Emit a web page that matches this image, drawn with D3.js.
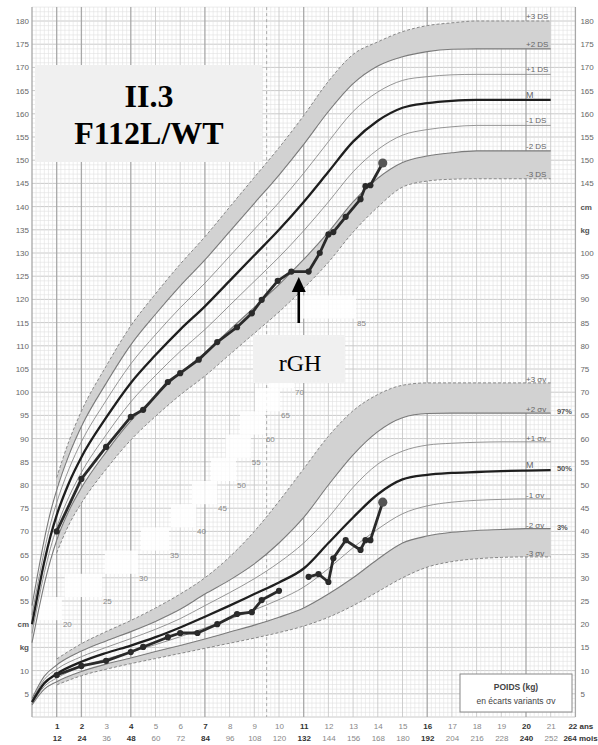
<!DOCTYPE html>
<html>
<head>
<meta charset="utf-8">
<script src="https://cdn.jsdelivr.net/npm/d3@7"></script>
<style>
  body { margin: 0; background: #fff; }
  svg { display: block; font-family: "Liberation Sans", Arial, sans-serif; }
</style>
</head>
<body>
<svg id="chart" width="598" height="745"></svg>
<script>
// ---- reference curves: height (cm), DS lines
const hAges = [0, 0.25, 0.5, 0.75, 1, 1.5, 2, 3, 4, 5, 6, 7, 8, 9, 10, 11, 12, 13, 14, 15, 16, 17, 18, 19, 20, 21];
const hM  = [50, 57, 63.5, 69, 73.5, 80.5, 86, 94.5, 102, 108, 113.5, 118.5, 124, 129.5, 135, 141, 147.5, 154, 158.5, 161.3, 162.3, 162.8, 163, 163, 163, 163];
const hP1 = [52, 59.2, 65.9, 71.6, 76.2, 83.5, 89.3, 98.2, 106.1, 112.4, 118.2, 123.5, 129.3, 135.1, 140.9, 147.2, 154, 160.5, 164.7, 167.2, 168, 168.4, 168.5, 168.5, 168.5, 168.5];
const hP2 = [54, 61.4, 68.3, 74.2, 78.9, 86.5, 92.6, 101.9, 110.2, 116.8, 122.9, 128.5, 134.6, 140.7, 146.8, 153.4, 160.5, 166.5, 170.3, 172.3, 173.4, 173.9, 174, 174, 174, 174];
const hM1 = [48, 54.8, 61.1, 66.4, 70.8, 77.5, 82.7, 90.8, 97.9, 103.6, 108.8, 113.5, 118.7, 123.9, 129.1, 134.8, 141, 147.5, 152.3, 155.4, 156.6, 157.2, 157.5, 157.5, 157.5, 157.5];
const hM2 = [46, 52.6, 58.7, 63.8, 68.1, 74.5, 79.4, 87.1, 93.8, 99.2, 104.1, 108.5, 113.4, 118.3, 123.2, 128.6, 134.5, 141, 146.1, 149.5, 150.9, 151.6, 152, 152, 152, 152];
// +/-3 DS only drawn from 1 year
const hBandAges = [1, 1.5, 2, 3, 4, 5, 6, 7, 8, 9, 10, 11, 12, 13, 14, 15, 16, 17, 18, 19, 20, 21];
const hP3 = [81.6, 89.5, 95.9, 105.6, 114.3, 121.2, 127.6, 133.5, 139.9, 146.3, 152.7, 159.6, 167, 172.8, 175.5, 177.7, 179, 179.6, 180, 180, 180, 180];
const hM3 = [65.4, 71.5, 76.1, 83.4, 89.7, 94.8, 99.4, 103.5, 108.1, 112.7, 117.3, 122.4, 128, 134.5, 139.9, 144.2, 145.5, 145.9, 146, 146, 146, 146];

// ---- reference curves: weight (kg), sigma lines
const wAges = [0, 0.5, 1, 2, 3, 4, 5, 6, 7, 8, 9, 10, 11, 12, 13, 14, 15, 16, 17, 18, 19, 20, 21];
const wM  = [3.2, 7.3, 9.3, 11.9, 13.8, 15.4, 17.2, 19.3, 21.6, 24.0, 26.5, 29.0, 32.0, 37.5, 43.0, 48.0, 51.2, 52.2, 52.6, 52.8, 53.0, 53.1, 53.2];
const wP1 = [3.6, 8.1, 10.3, 13.0, 15.0, 16.9, 18.9, 21.2, 24.0, 26.8, 29.8, 33.3, 37.5, 43.0, 49.5, 54.5, 57.3, 58.6, 59.0, 59.2, 59.3, 59.3, 59.3];
const wP2 = [4.0, 8.8, 11.2, 14.2, 16.4, 18.4, 20.6, 23.2, 26.5, 29.5, 33.0, 37.5, 43.0, 50.0, 56.5, 61.5, 64.5, 65.4, 65.5, 65.5, 65.5, 65.5, 65.5];
const wM1 = [2.9, 6.6, 8.4, 10.8, 12.5, 14.0, 15.6, 17.3, 19.2, 21.1, 23.1, 25.3, 28.0, 32.0, 36.5, 40.5, 43.8, 45.5, 46.3, 46.7, 46.9, 47.0, 47.0];
const wM2 = [2.6, 6.0, 7.6, 9.8, 11.4, 12.7, 14.1, 15.4, 16.8, 18.3, 19.8, 21.5, 23.5, 26.5, 30.0, 34.0, 37.5, 39.0, 39.8, 40.2, 40.4, 40.6, 40.6];
const wBandAges = [1, 2, 3, 4, 5, 6, 7, 8, 9, 10, 11, 12, 13, 14, 15, 16, 17, 18, 19, 20, 21];
const wP3 = [12.5, 15.8, 18.4, 20.8, 23.5, 26.5, 30.0, 34.5, 40.0, 46.5, 53.5, 60.5, 66.0, 69.5, 71.5, 72.0, 72.0, 72.0, 72.0, 72.0, 72.0];
const wM3 = [6.9, 8.9, 10.3, 11.5, 12.6, 13.7, 14.8, 15.9, 17.0, 18.2, 19.6, 21.5, 24.0, 27.0, 30.0, 32.3, 33.5, 34.1, 34.4, 34.5, 34.5];

// ---- patient II.3
const ptHAges = [1, 2, 3, 4, 4.5, 5.5, 6, 6.75, 7.5, 8.3, 8.9, 9.3, 9.95, 10.5, 11.2, 11.65, 12.0, 12.2, 12.7, 13.3, 13.5, 13.7, 14.2];
const ptHeights = [70, 81.3, 88.2, 94.7, 96.2, 102.2, 104.1, 107, 110.8, 114, 117, 119.9, 124, 126, 126, 130, 134, 134.5, 137.8, 141.6, 144.4, 144.6, 149.4];
const ptWAges = [1, 2, 3, 4, 4.5, 5.5, 6, 6.7, 7.5, 8.3, 8.9, 9.3, 10.0, 11.2, 11.6, 12.0, 12.2, 12.7, 13.3, 13.5, 13.7, 14.2];
const ptWeights = [9.05, 11.0, 12.1, 14.0, 15.1, 17.2, 18.1, 18.1, 20.0, 22.2, 22.6, 25.2, 27.2, 30.2, 30.8, 29.1, 34.2, 38.1, 36.0, 38.1, 38.1, 46.3];
const ptWBreak = 13; // weight line interrupted between 10 and 11.2 years

// ---- tick labels
const yearTicks = d3.range(1, 22);
const boldYears = [1, 2, 4, 7, 11, 16, 20];
const hTicksLeft = d3.range(55, 181, 5);
const hTicksRight = d3.range(145, 181, 5);
const wTicksLeft = [5, 10];
const wTicksRight = d3.range(5, 101, 5);
const hLabels = ['+3 DS', '+2 DS', '+1 DS', 'M', '-1 DS', '-2 DS', '-3 DS'];
const wLabels = ['+3 σv', '+2 σv', '+1 σv', 'M', '-1 σv', '-2 σv', '-3 σv'];
const pctLabels = ['97%', '50%', '3%'];
// diagonal weight scale printed in the grid: [kg, age] (75 and 80 sit under the rGH box)
const stairKg = [20, 25, 30, 35, 40, 45, 50, 55, 60, 65, 70, 85];
const stairAge = [1.25, 2.87, 4.33, 5.59, 6.68, 7.53, 8.3, 8.9, 9.47, 10.08, 10.65, 13.16];

const svg = d3.select('#chart');
const x = d3.scaleLinear().domain([0, 22]).range([32, 575.4]);
const yH = d3.scaleLinear().domain([50, 180]).range([624.2, 21]);
const yW = d3.scaleLinear().domain([0, 100]).range([717, 253]);

// ---- grid (height scale from 30 to 183 cm = weight 0 kg to top)
const grid = svg.append('g');
d3.range(30, 184).forEach(h => {
  grid.append('line')
    .attr('x1', x(0)).attr('x2', x(22))
    .attr('y1', yH(h)).attr('y2', yH(h))
    .attr('stroke', h % 5 === 0 ? '#c4c4c4' : '#e0e0e0')
    .attr('stroke-width', h % 5 === 0 ? 0.9 : 0.6);
});
d3.range(0, 22 * 6 + 1).forEach(i => {
  const a = i / 6;
  const isYear = i % 6 === 0;
  const bold = isYear && (boldYears.includes(a) || a === 0 || a === 22);
  grid.append('line')
    .attr('x1', x(a)).attr('x2', x(a))
    .attr('y1', yH(183)).attr('y2', yW(0))
    .attr('stroke', bold ? '#a8a8a8' : isYear ? '#c8c8c8' : '#e0e0e0')
    .attr('stroke-width', bold ? 1.3 : isYear ? 0.9 : 0.6);
});
grid.append('line')
  .attr('x1', x(9.5)).attr('x2', x(9.5))
  .attr('y1', yH(183)).attr('y2', yW(0))
  .attr('stroke', '#aaa').attr('stroke-width', 1)
  .attr('stroke-dasharray', '3,3');

// ---- diagonal white staircase with weight labels
const stairs = svg.append('g');
stairKg.forEach((kg, i) => {
  const px = x(stairAge[i]);
  const py = yW(kg);
  const left = i === 0 ? px - 26 : Math.min(px - 26, x(stairAge[i - 1]) + 2);
  stairs.append('rect')
    .attr('x', left).attr('y', py - 27.2)
    .attr('width', px - 1 - left).attr('height', 23.2)
    .attr('fill', '#fff').attr('opacity', 0.82);
});
stairKg.forEach((kg, i) => {
  stairs.append('text')
    .attr('x', x(stairAge[i])).attr('y', yW(kg) + 3)
    .attr('font-size', 8).attr('fill', '#888')
    .text(kg);
});

// ---- helpers
const lineOf = (ages, vals, y) => d3.line()
  .x((d, i) => x(ages[i])).y(d => y(d))
  .curve(d3.curveMonotoneX)(vals);
const areaOf = (ages, lo, hi, y) => d3.area()
  .x((d, i) => x(ages[i])).y0((d, i) => y(lo[i])).y1(d => y(d))
  .curve(d3.curveMonotoneX)(hi);

const curves = svg.append('g');
function drawSet(ages, bandAges, p3, p2, p1, m, m1, m2, m3, y) {
  const off = ages.indexOf(bandAges[0]);
  curves.append('path').attr('d', areaOf(bandAges, p2.slice(off), p3, y)).attr('fill', '#d2d2d2');
  curves.append('path').attr('d', areaOf(bandAges, m3, m2.slice(off), y)).attr('fill', '#d2d2d2');
  [p3, m3].forEach(s => curves.append('path')
    .attr('d', lineOf(bandAges, s, y))
    .attr('fill', 'none').attr('stroke', '#888').attr('stroke-width', 1)
    .attr('stroke-dasharray', '3,2'));
  [p2, m2].forEach(s => curves.append('path')
    .attr('d', lineOf(ages, s, y))
    .attr('fill', 'none').attr('stroke', '#7a7a7a').attr('stroke-width', 1.1));
  [p1, m1].forEach(s => curves.append('path')
    .attr('d', lineOf(ages, s, y))
    .attr('fill', 'none').attr('stroke', '#8a8a8a').attr('stroke-width', 0.9));
  curves.append('path')
    .attr('d', lineOf(ages, m, y))
    .attr('fill', 'none').attr('stroke', '#1e1e1e').attr('stroke-width', 2.3);
}
drawSet(hAges, hBandAges, hP3, hP2, hP1, hM, hM1, hM2, hM3, yH);
drawSet(wAges, wBandAges, wP3, wP2, wP1, wM, wM1, wM2, wM3, yW);

// ---- curve end labels
const last = a => a[a.length - 1];
const hEnds = [hP3, hP2, hP1, hM, hM1, hM2, hM3].map(last);
const wEnds = [wP3, wP2, wP1, wM, wM1, wM2, wM3].map(last);
const lab = svg.append('g').attr('font-size', 8).attr('fill', '#666');
hEnds.forEach((v, i) => lab.append('text')
  .attr('x', x(20)).attr('y', yH(v) - 2)
  .attr('font-size', hLabels[i] === 'M' ? 9 : 8)
  .text(hLabels[i]));
wEnds.forEach((v, i) => lab.append('text')
  .attr('x', x(20)).attr('y', wLabels[i] === 'M' ? yW(v) - 2 : yW(v) - 1)
  .attr('font-size', wLabels[i] === 'M' ? 9 : 8)
  .text(wLabels[i]));
[wEnds[1], wEnds[3], wEnds[5]].forEach((v, i) => lab.append('text')
  .attr('x', x(21.25)).attr('y', yW(v) + 1)
  .attr('font-weight', 'bold').attr('fill', '#555').attr('font-size', 7.5)
  .text(pctLabels[i]));

// ---- patient
const pt = svg.append('g');
const ptLine = d3.line().x(d => x(d[0])).y(d => d[2](d[1]));
const hPts = ptHAges.map((a, i) => [a, ptHeights[i], yH]);
const wPts = ptWAges.map((a, i) => [a, ptWeights[i], yW]);
[hPts, wPts.slice(0, ptWBreak), wPts.slice(ptWBreak)].forEach(seg => {
  pt.append('path').attr('d', ptLine(seg))
    .attr('fill', 'none').attr('stroke', '#2a2a2a')
    .attr('stroke-width', 2.8).attr('stroke-linejoin', 'round');
});
[hPts, wPts].forEach(pts => {
  pt.selectAll(null).data(pts).join('circle')
    .attr('cx', d => x(d[0])).attr('cy', d => d[2](d[1]))
    .attr('r', (d, i) => i === pts.length - 1 ? 4.6 : 3.1)
    .attr('fill', (d, i) => i === pts.length - 1 ? '#555' : '#2a2a2a');
});

// ---- axes
function clean(g) {
  g.select('.domain').remove();
  g.selectAll('text').attr('fill', '#666').attr('font-size', 8);
}
svg.append('g').attr('transform', `translate(${x(0)},0)`)
  .call(d3.axisLeft(yH).tickValues(hTicksLeft).tickSize(0).tickPadding(3)).call(clean);
svg.append('g').attr('transform', `translate(${x(0)},0)`)
  .call(d3.axisLeft(yW).tickValues(wTicksLeft).tickSize(0).tickPadding(3)).call(clean);
svg.append('g').attr('transform', `translate(${x(22) + 2},0)`)
  .call(d3.axisRight(yH).tickValues(hTicksRight).tickSize(0).tickPadding(3)).call(clean);
svg.append('g').attr('transform', `translate(${x(22) + 2},0)`)
  .call(d3.axisRight(yW).tickValues(wTicksRight).tickSize(0).tickPadding(3)).call(clean);

const unit = svg.append('g').attr('font-size', 8).attr('font-weight', 'bold').attr('fill', '#555');
unit.append('text').attr('x', x(0) - 3).attr('y', yW(20) + 3).attr('text-anchor', 'end').text('cm');
unit.append('text').attr('x', x(0) - 3).attr('y', yW(15) + 3).attr('text-anchor', 'end').text('kg');
unit.append('text').attr('x', x(22) + 5).attr('y', yH(140) + 3).text('cm');
unit.append('text').attr('x', x(22) + 5).attr('y', yH(135) + 3).text('kg');

const years = svg.append('g').attr('transform', `translate(0,${yW(0) + 3})`)
  .call(d3.axisBottom(x).tickValues(yearTicks).tickSize(0).tickPadding(3).tickFormat(d => d))
  .call(clean);
const months = svg.append('g').attr('transform', `translate(0,${yW(0) + 15})`)
  .call(d3.axisBottom(x).tickValues(yearTicks).tickSize(0).tickPadding(3).tickFormat(d => d * 12))
  .call(clean);
[years, months].forEach(g => g.selectAll('text')
  .attr('font-weight', d => boldYears.includes(d) ? 'bold' : 'normal')
  .attr('fill', d => boldYears.includes(d) ? '#333' : '#888'));
unit.append('text').attr('x', x(22) - 7).attr('y', yW(0) + 12).attr('fill', '#333').text('22 ans');
unit.append('text').attr('x', x(22) - 12).attr('y', yW(0) + 24).attr('fill', '#333').text('264 mois');

// ---- legend box
const leg = svg.append('g');
leg.append('rect').attr('x', 460).attr('y', 674).attr('width', 112).attr('height', 38)
  .attr('fill', '#fff').attr('stroke', '#888').attr('stroke-width', 1);
leg.append('text').attr('x', 516).attr('y', 690).attr('text-anchor', 'middle')
  .attr('font-size', 8.5).attr('font-weight', 'bold').attr('fill', '#444').text('POIDS (kg)');
leg.append('text').attr('x', 516).attr('y', 704).attr('text-anchor', 'middle')
  .attr('font-size', 8.5).attr('fill', '#444').text('en écarts variants σv');

// ---- annotations
const ann = svg.append('g').attr('font-family', '"Liberation Serif", "Times New Roman", serif');
ann.append('rect').attr('x', 35).attr('y', 65).attr('width', 227).attr('height', 97).attr('fill', '#f0f0f0');
ann.append('text').attr('x', 149).attr('y', 107).attr('text-anchor', 'middle')
  .attr('font-size', 32).attr('font-weight', 'bold').attr('fill', '#000').text('II.3');
ann.append('text').attr('x', 149).attr('y', 144).attr('text-anchor', 'middle')
  .attr('font-size', 32).attr('font-weight', 'bold').attr('fill', '#000').text('F112L/WT');

ann.append('rect').attr('x', 253).attr('y', 335).attr('width', 92).attr('height', 48).attr('fill', '#f0f0f0');
ann.append('text').attr('x', 300).attr('y', 371).attr('text-anchor', 'middle')
  .attr('font-size', 24).attr('fill', '#000').text('rGH');

const ax = x(10.8);
ann.append('line').attr('x1', ax).attr('x2', ax).attr('y1', 323).attr('y2', 290)
  .attr('stroke', '#000').attr('stroke-width', 2.6);
ann.append('path').attr('d', `M${ax - 7},292 L${ax + 7},292 L${ax},277 Z`).attr('fill', '#000');
</script>
</body>
</html>
